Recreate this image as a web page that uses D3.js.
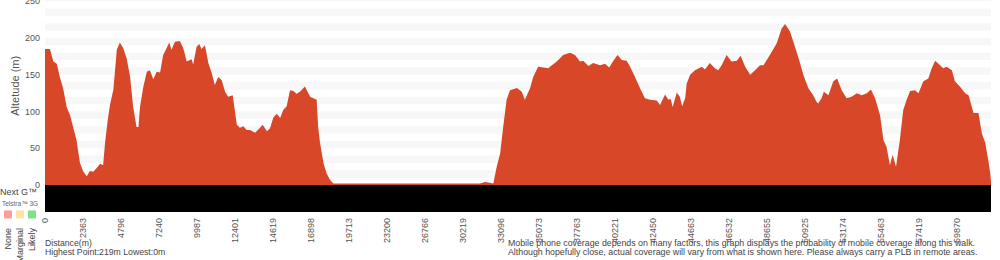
<!DOCTYPE html>
<html>
<head>
<meta charset="utf-8">
<script src="https://cdn.jsdelivr.net/npm/d3@7"></script>
<style>
  body { margin: 0; background: #fff; }
  text { font-family: "Liberation Sans", Arial, Helvetica, sans-serif; }
</style>
</head>
<body>
<div id="chart"></div>
<script>
// sample position (index along the walk) and altitude in metres
const sampleIdx = [0,1.3,2.2,3.1,3.9,4.8,5.7,6.6,7.4,8.3,9.2,10.1,11.0,11.8,12.7,13.6,14.5,15.3,15.8,16.5,17.1,18.0,18.9,19.7,20.6,21.5,22.4,23.2,24.1,24.6,25.0,25.9,26.8,27.6,28.5,29.4,30.3,31.1,32.0,32.7,33.3,34.2,35.5,36.4,37.3,38.6,39.0,39.9,40.6,41.2,42.1,43.0,43.9,44.7,45.6,46.5,47.4,48.2,49.4,50.5,51.3,52.2,53.1,54.0,55.3,56.6,57.3,58.4,59.2,60.1,61.0,61.9,62.7,63.6,64.5,65.4,66.2,67.1,68.4,69.8,71.5,71.9,72.4,73.3,74.1,75.0,75.9,80.3,93.4,106.6,114.5,115.8,117.1,118.0,118.9,119.8,120.6,121.5,122.4,124.2,125.5,126.3,127.7,128.5,129.8,132.5,132.9,134.7,136.4,138.2,139.5,140.8,141.7,143.0,144.3,146.1,147.4,148.5,149.6,150.7,151.8,153.1,154.0,155.3,156.6,157.9,159.2,161.0,161.9,163.2,164.1,164.7,165.2,166.3,167.1,167.7,168.5,168.9,169.8,171.1,172.9,173.7,175.0,176.3,177.2,178.1,179.4,180.7,182.1,183.1,184.3,185.6,186.9,188.2,189.1,190.8,192.6,193.9,194.8,196.1,197.4,198.5,199.6,200.9,202.2,203.1,203.5,204.4,205.0,206.2,207.5,208.5,209.7,211.0,212.3,213.7,215.0,216.3,217.4,218.5,219.8,220.7,221.5,222.4,223.1,224.0,225.0,225.9,226.8,227.7,229.0,229.9,231.2,232.5,233.4,234.3,235.6,236.4,237.3,238.7,239.5,240.8,242.2,243.1,244.4,245.7,246.6,247.5,248.4,248.8,249];
const altitude = [185,185,168,165,147,131,106,95,79,61,30,18,12,19,18,23,29,27,57,88,109,130,184,194,186,172,147,106,79,79,106,134,154,156,144,154,153,177,186,194,184,195,196,186,168,171,164,188,192,185,190,166,152,136,147,143,127,120,122,82,78,80,75,75,71,78,82,73,77,92,97,91,102,107,129,128,124,127,134,120,116,79,57,30,16,7,2,2,2,2,2,4,3,2,25,43,79,116,129,132,127,116,132,147,161,159,161,168,177,180,177,168,169,162,166,163,165,160,169,177,170,169,161,147,132,118,116,115,109,123,116,117,106,126,120,107,118,138,150,156,161,157,166,159,156,163,177,168,169,176,161,150,156,163,163,177,193,213,219,209,188,170,150,132,122,113,111,118,127,122,141,145,129,118,120,125,122,125,130,118,95,61,52,27,41,25,61,102,116,128,129,125,141,145,159,169,163,159,161,156,141,134,125,122,98,98,70,57,30,16,5];

// distance (m) written under every 10th sample
const tickIdx = d3.range(0, 250, 10);
const distLabels = ["0","2363","4796","7240","9987","12401","14619","16898","19713","23200","26766","30219","33096","35073","37763","40221","42450","44663","46532","48655","50925","53174","55463","57419","59870"];
const altTicks = [0, 50, 100, 150, 200, 250];

const coverageNames = ["None", "Marginal", "Likely"];
const coverageColors = ["#ff9c9c", "#ffe2a6", "#7be38c"];

const noteLines = [
  "Mobile phone coverage depends on many factors, this graph displays the probability of mobile coverage along this walk.",
  "Although hopefully close, actual coverage will vary from what is shown here. Please always carry a PLB in remote areas."
];

const W = 1000, H = 260;
const left = 45, right = 991, base = 185;

const svg = d3.select("#chart").append("svg").attr("width", W).attr("height", H);

const x = d3.scaleLinear().domain([0, 249]).range([left, right]);
const y = d3.scaleLinear().domain([0, 250]).range([base, base - 250 * 0.735]);

// light bands behind the profile
svg.append("g").selectAll("rect")
  .data(d3.range(10, 260, 20))
  .join("rect")
  .attr("x", left)
  .attr("width", right - left)
  .attr("y", d => Math.max(0, y(d + 10)))
  .attr("height", d => y(d) - Math.max(0, y(d + 10)))
  .attr("fill", "#f7f7f7");

const profile = sampleIdx.map((d, i) => [d, altitude[i]]);

svg.append("path")
  .datum(profile)
  .attr("fill", "#d94729")
  .attr("d", d3.area().x(d => x(d[0])).y0(base).y1(d => y(d[1])));

// coverage strip
svg.append("rect")
  .attr("x", left).attr("y", base)
  .attr("width", right - left).attr("height", 27)
  .attr("fill", "#000");

// y axis labels
svg.append("g").selectAll("text")
  .data(altTicks)
  .join("text")
  .attr("x", 40)
  .attr("y", d => y(d))
  .attr("dy", "0.35em")
  .attr("text-anchor", "end")
  .attr("font-size", 9)
  .attr("fill", "#555")
  .text(d => d);

svg.append("text")
  .attr("transform", `translate(19, ${y(135)}) rotate(-90)`)
  .attr("text-anchor", "middle")
  .attr("font-size", 11)
  .attr("fill", "#555")
  .text("Altetude (m)");

// x tick labels
svg.append("g").selectAll("text")
  .data(tickIdx)
  .join("text")
  .attr("transform", d => `translate(${x(d)}, 218) rotate(-90)`)
  .attr("text-anchor", "end")
  .attr("dy", "0.35em")
  .attr("font-size", 9)
  .attr("fill", "#555")
  .text((d, i) => distLabels[i]);

// coverage legend
svg.append("text").attr("x", 0).attr("y", 195)
  .attr("font-size", 9).attr("fill", "#444").text("Next G™");
svg.append("text").attr("x", 2).attr("y", 206)
  .attr("font-size", 6.5).attr("fill", "#666").text("Telstra™ 3G");

const legendX = [8, 20, 32];
svg.append("g").selectAll("rect")
  .data(coverageColors)
  .join("rect")
  .attr("x", (d, i) => legendX[i] - 4)
  .attr("y", 210.5)
  .attr("width", 8).attr("height", 8)
  .attr("fill", d => d);

svg.append("g").selectAll("text")
  .data(coverageNames)
  .join("text")
  .attr("transform", (d, i) => `translate(${legendX[i]}, 228) rotate(-90)`)
  .attr("text-anchor", "end")
  .attr("dy", "0.35em")
  .attr("font-size", 9)
  .attr("fill", "#444")
  .text(d => d);

// footer text
svg.append("text").attr("x", 45).attr("y", 246)
  .attr("font-size", 8.7).attr("fill", "#444").text("Distance(m)");
svg.append("text").attr("x", 45).attr("y", 255)
  .attr("font-size", 8.7).attr("fill", "#444").text("Highest Point:219m Lowest:0m");

svg.append("g").selectAll("text")
  .data(noteLines)
  .join("text")
  .attr("x", 508)
  .attr("y", (d, i) => 246 + i * 9)
  .attr("font-size", 8.8)
  .attr("fill", "#444")
  .text(d => d);
</script>
</body>
</html>
